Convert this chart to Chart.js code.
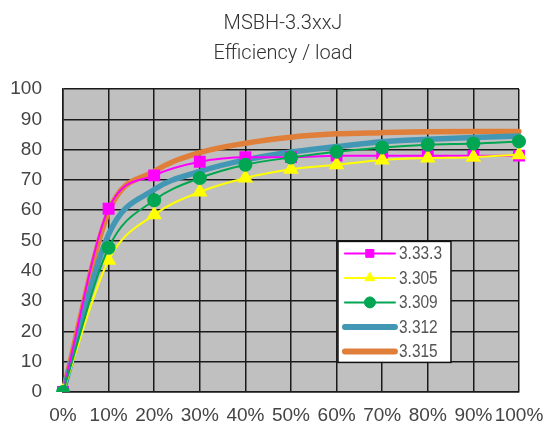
<!DOCTYPE html>
<html>
<head>
<meta charset="utf-8">
<script src="https://cdn.jsdelivr.net/npm/chart.js@4/dist/chart.umd.min.js"></script>
<style>
  html, body { margin: 0; padding: 0; background: #fff; }
  #wrap { width: 545px; height: 428px; }
</style>
</head>
<body>
<div id="wrap"><canvas id="eff-chart"></canvas></div>
<script>
// load points (x axis)
const loads = ['0%', '10%', '20%', '30%', '40%', '50%', '60%', '70%', '80%', '90%', '100%'];

// efficiency values
const eff3333 = [0, 60.5, 71.5, 76, 77.5, 77.5, 78, 78, 78, 78, 78];
const eff3305 = [0, 43.5, 58.5, 66, 70.6, 73.5, 75, 76.6, 77.2, 77.5, 78.3];
const eff3309 = [0, 47.6, 63.3, 70.6, 75, 77.4, 79.3, 80.7, 81.6, 82, 82.7];
const eff3312 = [0, 52, 66.8, 72.8, 76.6, 79.2, 81, 82.6, 83.4, 84, 84.5];
const eff3315 = [0, 59.5, 72.8, 79, 82.1, 84.1, 85.2, 85.6, 85.9, 86, 86];

const titleLines = ['MSBH-3.3xxJ', 'Efficiency / load'];

// grey plot background + two line title (centred on the picture, not the plot)
const plotBg = {
  id: 'plotBg',
  beforeDraw(chart) {
    const a = chart.chartArea;
    const c = chart.ctx;
    c.save();
    c.fillStyle = '#c0c0c0';
    c.fillRect(a.left, a.top, a.right - a.left, a.bottom - a.top);
    c.fillStyle = '#333';
    c.font = '300 20px Roboto, "Noto Sans", sans-serif';
    c.textAlign = 'center';
    c.textBaseline = 'alphabetic';
    titleLines.forEach((t, i) => c.fillText(t, 283, 29 + i * 30));
    c.restore();
  }
};

// excel style legend box inside the plot
const boxLegend = {
  id: 'boxLegend',
  afterDraw(chart) {
    const a = chart.chartArea;
    const c = chart.ctx;
    const w = a.right - a.left, h = a.bottom - a.top;
    const bx = a.left + w * 0.603, by = a.top + h * 0.503;
    const bw = 113, bh = 121;
    c.save();
    c.fillStyle = '#fff';
    c.fillRect(bx, by, bw, bh);
    c.strokeStyle = '#111';
    c.lineWidth = 1.5;
    c.strokeRect(bx, by, bw, bh);
    c.font = '18px "Liberation Sans", Arial, sans-serif';
    chart.data.datasets.forEach((ds, i) => {
      const y = by + 12 + i * 24.5;
      const thick = ds.borderWidth > 3;
      c.beginPath();
      c.lineCap = 'round';
      c.strokeStyle = ds.borderColor;
      c.lineWidth = thick ? 6 : 2;
      c.moveTo(bx + 7, y);
      c.lineTo(bx + 57, y);
      c.stroke();
      if (ds.pointRadius > 0) {
        c.fillStyle = ds.backgroundColor;
        c.strokeStyle = ds.backgroundColor;
        c.lineWidth = 1;
        Chart.helpers.drawPoint(c, {pointStyle: ds.pointStyle, radius: 5.5, rotation: 0, borderWidth: 1}, bx + 32, y);
      }
      c.fillStyle = '#555';
      c.textBaseline = 'middle';
      c.textAlign = 'left';
      const tw = c.measureText(ds.label).width;
      c.fillText(ds.label, bx + 61, y + 1, tw * 0.86);
    });
    c.restore();
  }
};

const tickFont = { family: '"Liberation Sans", Arial, sans-serif', size: 19 };

new Chart(document.getElementById('eff-chart'), {
  type: 'line',
  data: {
    labels: loads,
    datasets: [
      { label: '3.33.3', data: eff3333, borderColor: '#ff00ff', backgroundColor: '#ff00ff',
        borderWidth: 2, pointStyle: 'rect', pointRadius: 7, order: 3 },
      { label: '3.305', data: eff3305, borderColor: '#ffff00', backgroundColor: '#ffff00',
        borderWidth: 2, pointStyle: 'triangle', pointRadius: 7, order: 2 },
      { label: '3.309', data: eff3309, borderColor: '#00a651', backgroundColor: '#00a651',
        borderWidth: 2, pointStyle: 'circle', pointRadius: 6, order: 1 },
      { label: '3.312', data: eff3312, borderColor: '#4298b4', backgroundColor: '#4298b4',
        borderWidth: 5.5, pointRadius: 0, order: 4 },
      { label: '3.315', data: eff3315, borderColor: '#e07f3a', backgroundColor: '#e07f3a',
        borderWidth: 5.5, pointRadius: 0, order: 5 }
    ]
  },
  options: {
    responsive: true,
    maintainAspectRatio: false,
    animation: false,
    layout: { padding: { left: 0, right: 26, top: 89, bottom: 0 } },
    elements: { line: { cubicInterpolationMode: 'monotone', borderCapStyle: 'round' } },
    plugins: {
      legend: { display: false },
      tooltip: { enabled: false },
      title: { display: false }
    },
    scales: {
      x: {
        offset: false,
        grid: { color: '#1a1a1a', lineWidth: 1.5, drawTicks: false },
        border: { color: '#1a1a1a', width: 1.5 },
        ticks: { color: '#444', font: tickFont, padding: 12, maxRotation: 0, autoSkip: false },
        afterFit(s) { s.height = 36; s.paddingLeft = 0; s.paddingRight = 0; }
      },
      y: {
        min: 0, max: 100,
        grid: { color: '#1a1a1a', lineWidth: 1.5, drawTicks: false },
        border: { color: '#1a1a1a', width: 1.5 },
        ticks: { stepSize: 10, color: '#444', font: tickFont, padding: 21 },
        afterFit(s) { s.width = 63; s.paddingTop = 0; s.paddingBottom = 0; }
      }
    }
  },
  plugins: [plotBg, boxLegend]
});
</script>
</body>
</html>
